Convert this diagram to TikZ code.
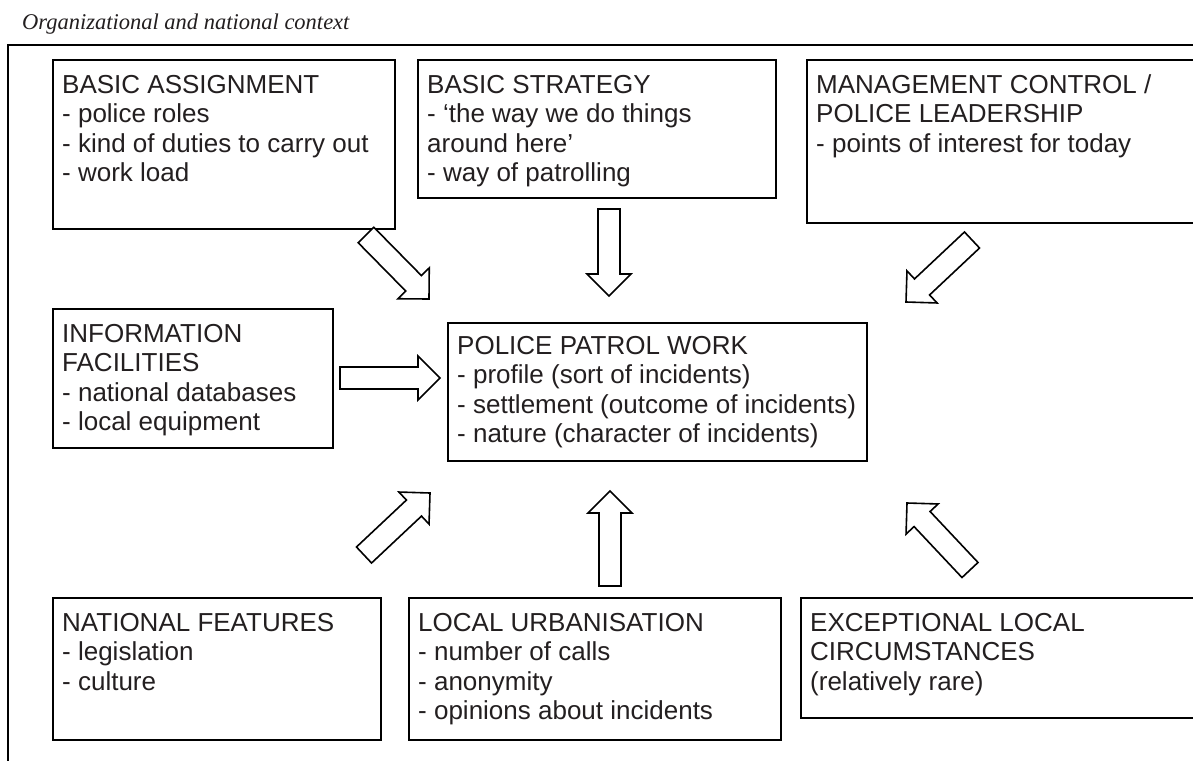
\documentclass[tikz,border=0pt]{standalone}
\usepackage{fontspec}
\setmainfont{Liberation Sans}
\newfontfamily\titlefont{Liberation Serif}
\usetikzlibrary{calc}

\definecolor{ink}{RGB}{35,31,32}

% stacked text lines, baseline of the whole block = baseline of the first line
\newcommand\boxlines[1]{\vtop{\baselineskip=29.5pt\lineskiplimit=0pt\halign{##\hfil\cr#1\crcr}}}

% outlined block arrow from a tail coordinate to a tip coordinate
\newcommand\fatarrow[2]{%
  \coordinate (fa-base) at ($(#2)!22pt!(#1)$);
  \draw[blockarrow]
    ($(#1)!11pt!90:(#2)$) -- ($(fa-base)!11pt!-90:(#1)$) -- ($(fa-base)!22pt!-90:(#1)$)
    -- (#2) -- ($(fa-base)!22pt!90:(#1)$) -- ($(fa-base)!11pt!90:(#1)$)
    -- ($(#1)!11pt!-90:(#2)$) -- cycle;}

\tikzset{
  box/.style={draw=black, line width=1.6pt, inner sep=0pt, anchor=north west},
  txt/.style={anchor=base west, inner sep=0pt, text=ink,
    font=\fontsize{26pt}{29.5pt}\selectfont},
  frame/.style={draw=black, line width=2pt, inner sep=0pt, anchor=north west},
  blockarrow/.style={draw=black, line width=1.6pt, fill=white, line join=miter},
}

\begin{document}
\begin{tikzpicture}[x=1pt, y=-1pt]
\clip (0,0) rectangle (1193,760);
\fill[white] (0,0) rectangle (1193,760);

% heading and surrounding context frame
\node[anchor=base west, inner sep=0pt, text=ink,
  font=\titlefont\itshape\fontsize{22.5pt}{27pt}\selectfont] (title) at (22,30)
  {Organizational and national context};
\node[frame, minimum width=1300pt, minimum height=800pt] (context) at (7,44) {};

% upper row
\node[box, minimum width=342pt, minimum height=169pt] (assign) at (52,59) {};
\node[txt] (assign-t) at ($(assign.north west)+(10,34)$)
  {\boxlines{BASIC ASSIGNMENT\cr - police roles\cr - kind of duties to carry out\cr - work load}};

\node[box, minimum width=358pt, minimum height=138pt] (strategy) at (417,59) {};
\node[txt] (strategy-t) at ($(strategy.north west)+(10,34)$)
  {\boxlines{BASIC STRATEGY\cr - ‘the way we do things\cr around here’\cr - way of patrolling}};

\node[box, minimum width=460pt, minimum height=163pt] (mgmt) at (806,59) {};
\node[txt] (mgmt-t) at ($(mgmt.north west)+(10,34)$)
  {\boxlines{MANAGEMENT CONTROL /\cr POLICE LEADERSHIP\cr - points of interest for today}};

% middle row
\node[box, minimum width=280pt, minimum height=139pt] (info) at (52,308) {};
\node[txt] (info-t) at ($(info.north west)+(10,34)$)
  {\boxlines{INFORMATION\cr FACILITIES\cr - national databases\cr - local equipment}};

\node[box, minimum width=419pt, minimum height=138pt] (patrol) at (447,322) {};
\node[txt] (patrol-t) at ($(patrol.north west)+(10,32)$)
  {\boxlines{POLICE PATROL WORK\cr - profile (sort of incidents)\cr - settlement (outcome of incidents)\cr - nature (character of incidents)}};

% lower row
\node[box, minimum width=328pt, minimum height=142pt] (national) at (52,597) {};
\node[txt] (national-t) at ($(national.north west)+(10,34)$)
  {\boxlines{NATIONAL FEATURES\cr - legislation\cr - culture}};

\node[box, minimum width=372pt, minimum height=142pt] (urban) at (408,597) {};
\node[txt] (urban-t) at ($(urban.north west)+(10,34)$)
  {\boxlines{LOCAL URBANISATION\cr - number of calls\cr - anonymity\cr - opinions about incidents}};

\node[box, minimum width=470pt, minimum height=120pt] (except) at (800,597) {};
\node[txt] (except-t) at ($(except.north west)+(10,34)$)
  {\boxlines{EXCEPTIONAL LOCAL\cr CIRCUMSTANCES\cr (relatively rare)}};

% arrow ends
\coordinate (a1s) at (366,235); \coordinate (a1e) at (429,299);
\coordinate (a2s) at (609,209); \coordinate (a2e) at (609,296);
\coordinate (a3s) at (972,240); \coordinate (a3e) at (906,302);
\coordinate (a4s) at (340,378); \coordinate (a4e) at (440,378);
\coordinate (a5s) at (364,555); \coordinate (a5e) at (430,493);
\coordinate (a6s) at (610,586); \coordinate (a6e) at (610,491);
\coordinate (a7s) at (970,570); \coordinate (a7e) at (907,503);

\fatarrow{a1s}{a1e}
\fatarrow{a2s}{a2e}
\fatarrow{a3s}{a3e}
\fatarrow{a4s}{a4e}
\fatarrow{a5s}{a5e}
\fatarrow{a6s}{a6e}
\fatarrow{a7s}{a7e}
\end{tikzpicture}
\end{document}
